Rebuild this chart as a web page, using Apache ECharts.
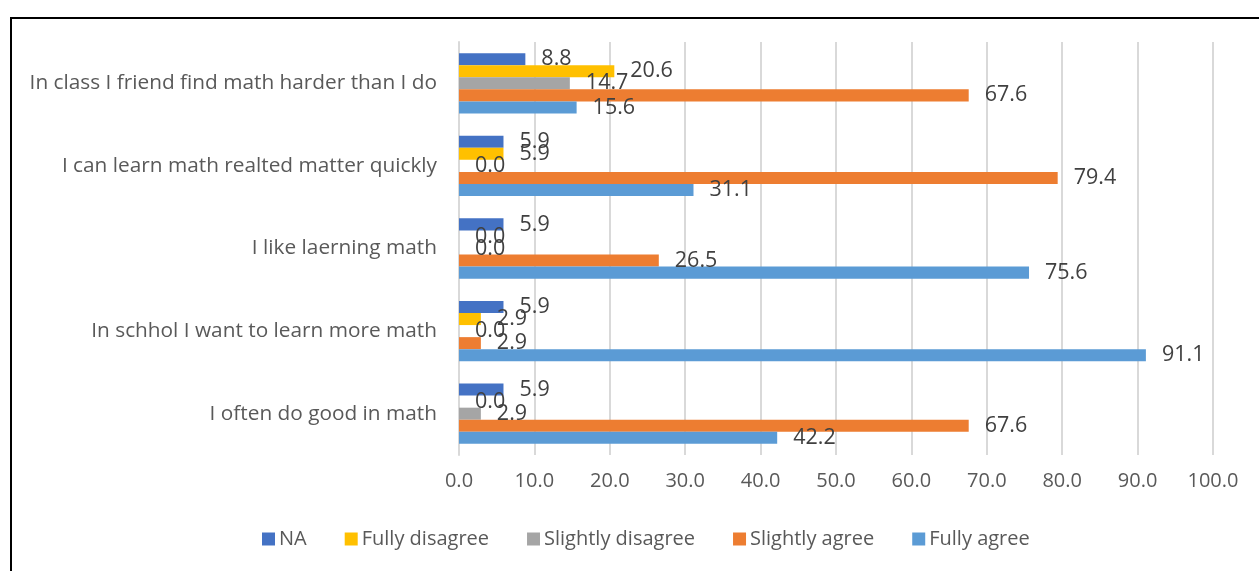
<!DOCTYPE html>
<html>
<head>
<meta charset="utf-8">
<script src="https://cdn.jsdelivr.net/npm/echarts@6/dist/echarts.min.js"></script>
<style>
html,body{margin:0;padding:0;background:#fff;}
#chart{width:1259px;height:571px;}
</style>
</head>
<body>
<div id="chart"></div>
<script>
const categories = [
  "I often do good in math",
  "In schhol I want to learn more math",
  "I like laerning math",
  "I can learn math realted matter quickly",
  "In class I friend find math harder than I do"
];
const seriesNames = ["NA", "Fully disagree", "Slightly disagree", "Slightly agree", "Fully agree"];
const naValues = [5.9, 5.9, 5.9, 5.9, 8.8];
const fullyDisagree = [0.0, 2.9, 0.0, 5.9, 20.6];
const slightlyDisagree = [2.9, 0.0, 0.0, 0.0, 14.7];
const slightlyAgree = [67.6, 2.9, 26.5, 79.4, 67.6];
const fullyAgree = [42.2, 91.1, 75.6, 31.1, 15.6];
const xTicks = [0, 10, 20, 30, 40, 50, 60, 70, 80, 90, 100];

const colors = ["#4472C4", "#FFC000", "#A5A5A5", "#ED7D31", "#5B9BD5"];
const allValues = [naValues, fullyDisagree, slightlyDisagree, slightlyAgree, fullyAgree];
const FONT = "Open Sans";

const chart = echarts.init(document.getElementById('chart'));
chart.setOption({
  animation: false,
  color: colors,
  graphic: [{
    type: 'rect',
    shape: {x: 11, y: 18, width: 1400, height: 700},
    style: {fill: 'none', stroke: '#000', lineWidth: 2},
    silent: true
  }],
  grid: {left: 459, right: 46, top: 42, bottom: 116, containLabel: false},
  legend: {
    data: seriesNames,
    left: 257,
    top: 524,
    itemWidth: 13,
    itemHeight: 13,
    itemGap: 38,
    icon: 'rect',
    textStyle: {fontFamily: FONT, fontSize: 20, color: '#595959', padding: [0,0,0,-1]}
  },
  xAxis: {
    type: 'value',
    min: 0, max: 100, interval: 10,
    axisLine: {show: false},
    axisTick: {show: false},
    splitLine: {show: true, lineStyle: {color: '#D9D9D9', width: 2}},
    axisLabel: {
      fontFamily: FONT, fontSize: 20, color: '#595959', margin: 16,
      formatter: v => xTicks.includes(v) ? v.toFixed(1) : ''
    }
  },
  yAxis: {
    type: 'category',
    data: categories,
    axisLine: {show: true, lineStyle: {color: '#D9D9D9', width: 2}},
    axisTick: {show: false},
    axisLabel: {fontFamily: FONT, fontSize: 20.8, color: '#595959', margin: 22}
  },
  series: seriesNames.map((name, i) => ({
    name: name,
    type: 'bar',
    data: allValues[i],
    barGap: '0%',
    barCategoryGap: '27%',
    label: {
      show: true,
      position: 'right',
      distance: 16,
      fontFamily: FONT,
      fontSize: 21.5,
      color: '#404040',
      formatter: p => p.value.toFixed(1)
    }
  }))
});
</script>
</body>
</html>
